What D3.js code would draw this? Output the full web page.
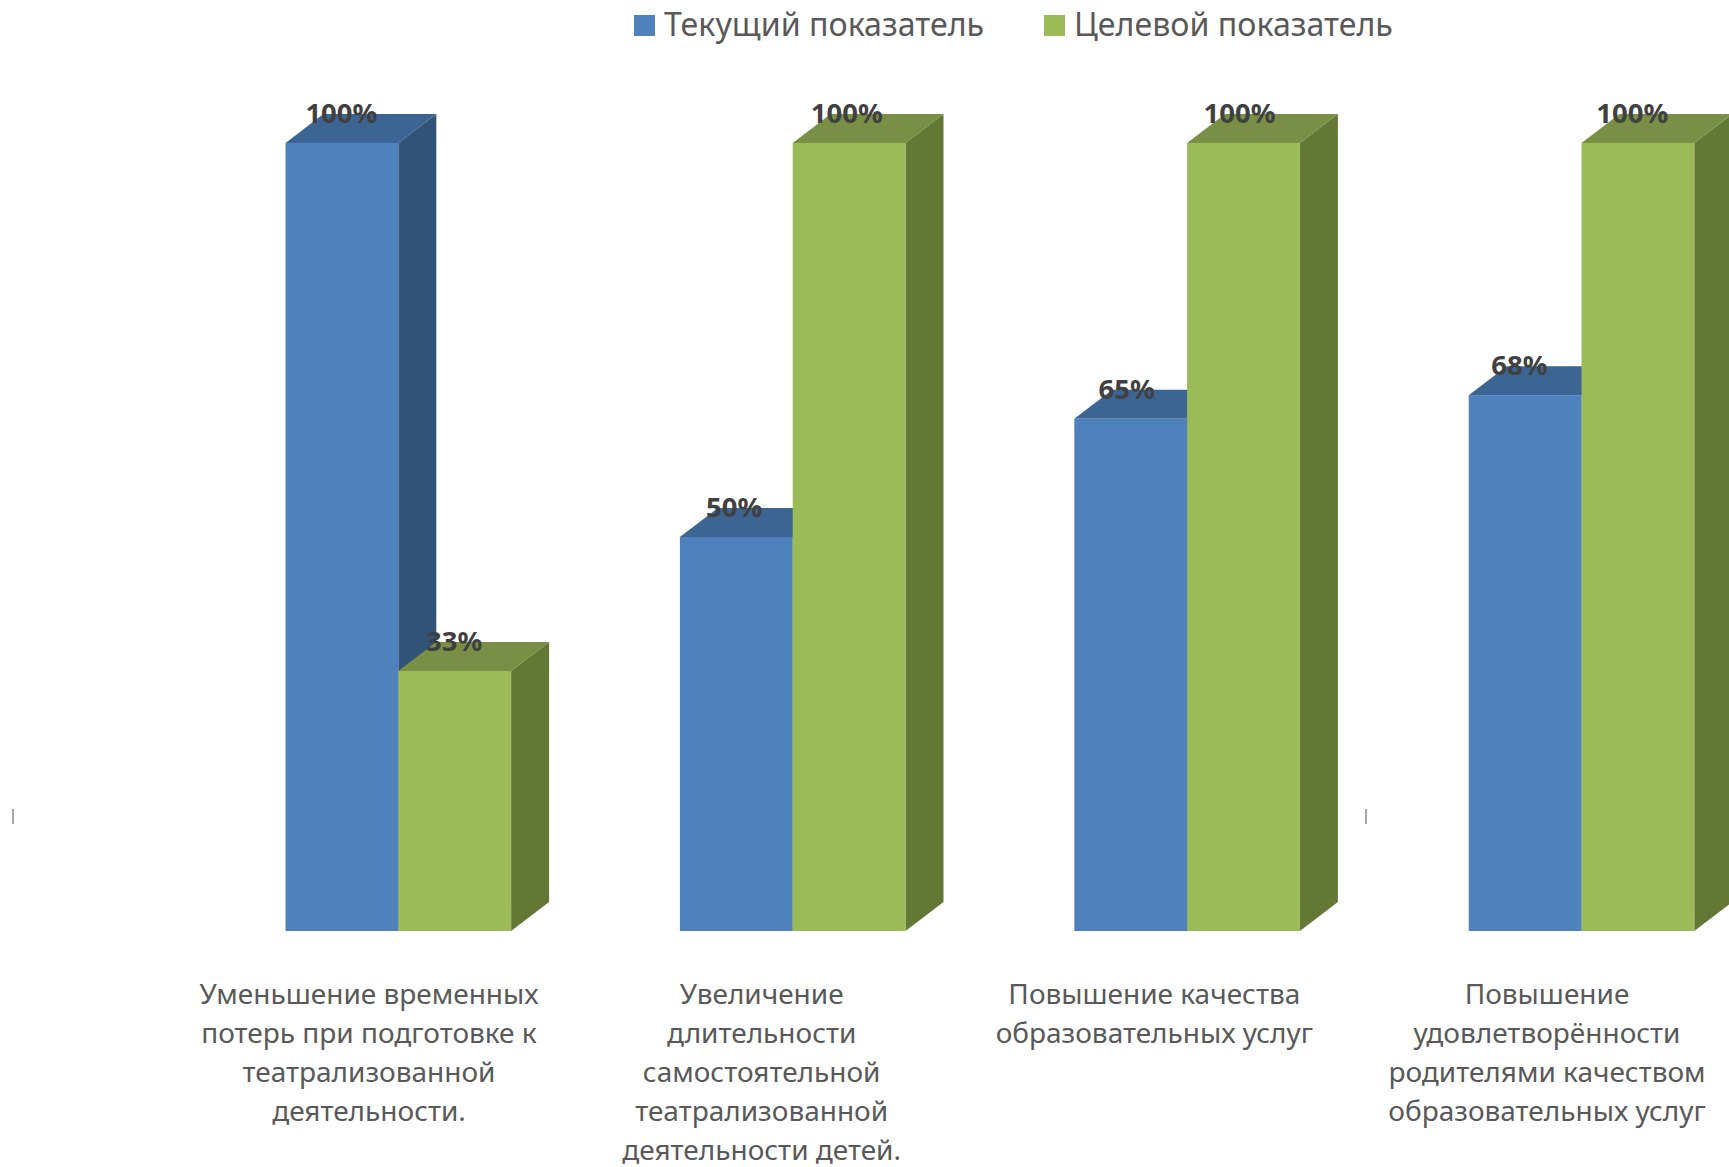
<!DOCTYPE html>
<html>
<head>
<meta charset="utf-8">
<script src="https://cdn.jsdelivr.net/npm/d3@7"></script>
<style>
  html, body { margin: 0; padding: 0; background: #fff; overflow: hidden; }
  text { font-family: "Noto Sans", sans-serif; }
</style>
</head>
<body>
<div id="chart"></div>
<script>
//category labels, \n = line break
const categories = [
    "Уменьшение временных\nпотерь при подготовке к\nтеатрализованной\nдеятельности.",
    "Увеличение\nдлительности\nсамостоятельной\nтеатрализованной\nдеятельности детей.",
    "Повышение качества\nобразовательных услуг",
    "Повышение\nудовлетворённости\nродителями качеством\nобразовательных услуг"
]
const seriesNames = ["Текущий показатель", "Целевой показатель"]
const currentValues = [100, 50, 65, 68]
const targetValues = [33, 100, 100, 100]

const width = 1729
const height = 1167
const baseY = 931
const topY = 143
//3d extrusion of the bars
const depthX = 38
const depthY = 29

const colors = [
    { front: "#4f81bd", top: "#3d6594", side: "#325378" },
    { front: "#9bbb59", top: "#7a8f46", side: "#647836" }
]

const svg = d3.select("#chart")
    .append("svg")
    .attr("width", width)
    .attr("height", height)
    .style("display", "block")

const x0 = d3.scaleBand()
    .domain(categories)
    .range([285.5, 1694.3])
    .paddingInner(1 - 225.6 / 394.4)
    .paddingOuter(0)

const x1 = d3.scaleBand()
    .domain(seriesNames)
    .range([0, x0.bandwidth()])

const yScale = d3.scaleLinear()
    .domain([0, 100])
    .range([baseY, topY])

//labels run on a slightly tighter step than the bars
const labelX = d3.scalePoint()
    .domain(categories)
    .range([369, 1547])

//one row per bar, blue first so green paints over its side
const bars = []
seriesNames.forEach((name, s) => {
    const values = s === 0 ? currentValues : targetValues
    categories.forEach((cat, i) => {
        bars.push({ cat, name, s, value: values[i] })
    })
})

const bar = svg.append("g")
    .selectAll("g")
    .data(bars)
    .join("g")

const left = d => x0(d.cat) + x1(d.name)
const right = d => left(d) + x1.bandwidth()

bar.append("polygon")
    .attr("fill", d => colors[d.s].side)
    .attr("points", d => [
        [right(d), yScale(d.value)],
        [right(d) + depthX, yScale(d.value) - depthY],
        [right(d) + depthX, baseY - depthY],
        [right(d), baseY]
    ].join(" "))

bar.append("polygon")
    .attr("fill", d => colors[d.s].top)
    .attr("points", d => [
        [left(d), yScale(d.value)],
        [left(d) + depthX, yScale(d.value) - depthY],
        [right(d) + depthX, yScale(d.value) - depthY],
        [right(d), yScale(d.value)]
    ].join(" "))

bar.append("rect")
    .attr("fill", d => colors[d.s].front)
    .attr("x", left)
    .attr("y", d => yScale(d.value))
    .attr("width", x1.bandwidth())
    .attr("height", d => baseY - yScale(d.value))

//value labels go on top of everything
svg.append("g")
    .selectAll("text")
    .data(bars)
    .join("text")
    .attr("x", d => labelX(d.cat) + x1(d.name) + x1.bandwidth() / 2 - 84)
    .attr("y", d => yScale(d.value) - 20)
    .attr("text-anchor", "middle")
    .attr("font-size", 27.5)
    .attr("font-weight", 700)
    .attr("fill", "#404040")
    .text(d => d.value + "%")

//category labels
const catLabel = svg.append("g")
    .selectAll("text")
    .data(categories)
    .join("text")
    .attr("text-anchor", "middle")
    .attr("font-size", 28)
    .attr("fill", "#595959")

catLabel.selectAll("tspan")
    .data(d => d.split("\n").map(line => ({ line, cat: d })))
    .join("tspan")
    .attr("x", d => labelX(d.cat))
    .attr("y", (d, i) => 1004 + i * 39)
    .text(d => d.line)

//legend
const legendX = [634, 1044]
const legend = svg.append("g")
    .selectAll("g")
    .data(seriesNames)
    .join("g")
    .attr("transform", (d, i) => "translate(" + legendX[i] + ", 15)")

legend.append("rect")
    .attr("width", 21)
    .attr("height", 21)
    .attr("fill", (d, i) => colors[i].front)

legend.append("text")
    .attr("x", 30)
    .attr("y", 21)
    .attr("font-size", 32.2)
    .attr("fill", "#595959")
    .text(d => d)

//two stray tick marks in the source picture
svg.append("g")
    .selectAll("line")
    .data([13, 1366])
    .join("line")
    .attr("x1", d => d)
    .attr("x2", d => d)
    .attr("y1", 809)
    .attr("y2", 824)
    .attr("stroke", "#a6a6a6")
    .attr("stroke-width", 2)
</script>
</body>
</html>
